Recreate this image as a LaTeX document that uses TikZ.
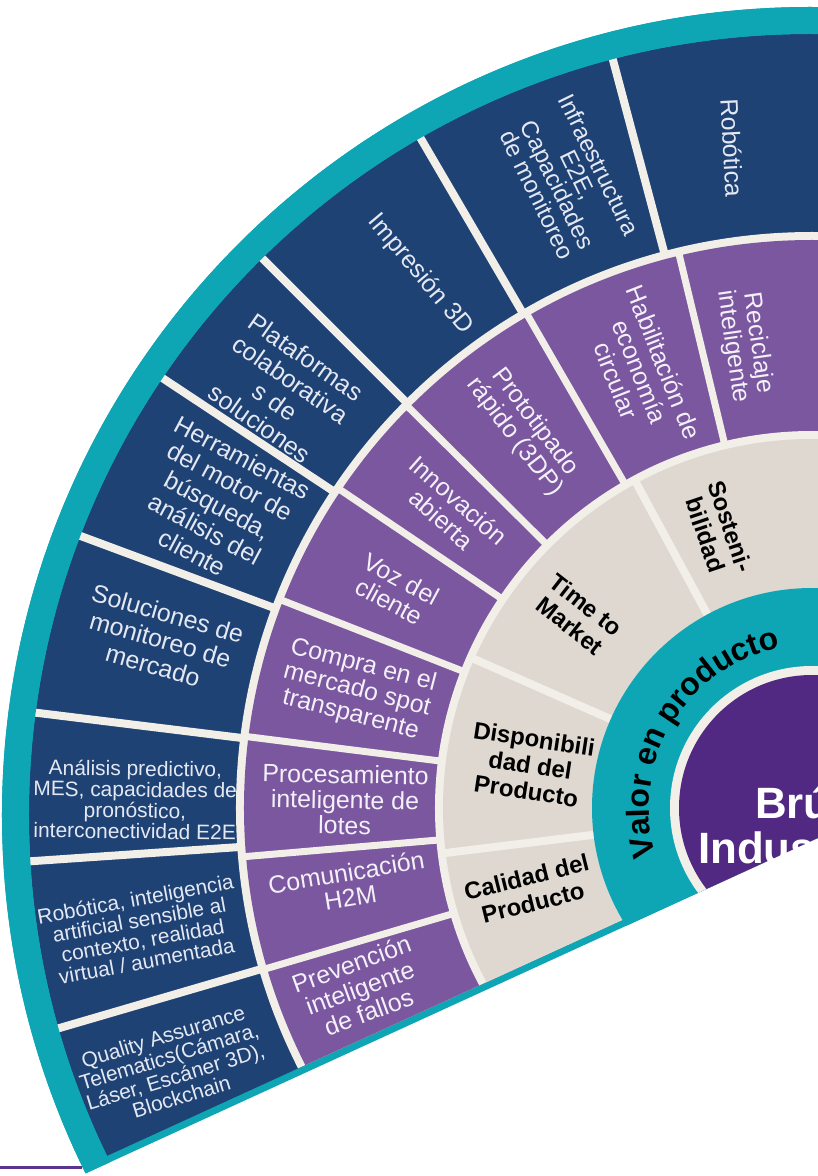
\documentclass[tikz,border=0pt]{standalone}
\usepackage{fontspec}
\setmainfont{Liberation Sans}
\usetikzlibrary{decorations.text}
\definecolor{ringteal}{RGB}{14,166,180}
\definecolor{cellblue}{RGB}{31,66,117}
\definecolor{cellpurple}{RGB}{123,87,160}
\definecolor{cellbeige}{RGB}{222,216,208}
\definecolor{gapcream}{RGB}{242,238,232}
\definecolor{corepurple}{RGB}{82,41,130}
\definecolor{bluefg}{RGB}{228,232,242}
\definecolor{purplefg}{RGB}{243,240,248}
\definecolor{rulepurple}{RGB}{92,52,140}
\tikzset{
      bluecell/.style   = {text=bluefg, align=center, inner sep=0pt, font=\fontsize{25}{27}\selectfont},
      smallcell/.style  = {text=bluefg, align=center, inner sep=0pt, font=\fontsize{21}{21}\selectfont},
      purplecell/.style = {text=purplefg, align=center, inner sep=0pt, font=\fontsize{25}{25.5}\selectfont},
      beigecell/.style  = {text=black, align=center, inner sep=0pt, font=\bfseries\fontsize{24}{26.5}\selectfont},
      corelabel/.style  = {text=white, anchor=base west, inner sep=0pt, font=\bfseries\fontsize{44}{44}\selectfont},
      gapline/.style    = {draw=gapcream, line width=8bp},
    }

\begin{document}
\begin{tikzpicture}[x=1bp, y=1bp]
          \useasboundingbox (-812,-368) rectangle (6,808);
          \clip (-812,-368) rectangle (6,808);
          \draw[rulepurple, line width=3bp] (-812,-359) -- (-730,-359);

          \begin{scope}
          % white cut along the lower edge
          \clip (-900,-444.9) -- (100,13.1) -- (100,900) -- (-900,900) -- cycle;
          \fill[ringteal] (-2,-7) circle[radius=808];
          \begin{scope}
            \clip (-900,-437.2) -- (100,20.8) -- (100,900) -- (-900,900) -- cycle;
            \fill[cellblue] (-2,-7) circle[radius=781];
            \fill[gapcream] (0,0) circle[radius=576];
            \fill[cellpurple] (0,0) circle[radius=568];
            \fill[gapcream] (0,0) circle[radius=377];
            \fill[cellbeige] (0,0) circle[radius=369];
            \foreach \a in {104.9,120.3,135,146.5,159.6,173,183.9,196.3}
              \draw[gapline] (\a:570) -- (\a:800);
            \foreach \a in {103.5,120,135.2,146,158.6,172.8,184.9,196.4}
              \draw[gapline, line width=7bp] (\a:373) -- (\a:572);
            \foreach \a in {118.4,156.2,187}
              \draw[gapline] (\a:215) -- (\a:373);
          \end{scope}
          \fill[ringteal, even odd rule] (-2,-7) circle[radius=808] (-2,-7) circle[radius=781];
          \fill[ringteal] (0,0) circle[radius=220];
          \fill[gapcream] (0,0) circle[radius=142];
          \fill[corepurple] (0,0) circle[radius=133];

          \node[corelabel] (bru) at (-57,-10) {Brú};
          \node[corelabel] (indus) at (-114,-55) {Indus};

          \path[decorate, decoration={text along path, text align=center,
              text={|\bfseries\fontsize{32}{32}\selectfont|Valor en producto}}]
              (197:163) arc[start angle=197, end angle=101, radius=163];

          % outer ring
          \node[bluecell, rotate=-87] (robotica) at (96.9:665) {Robótica};
          \node[bluecell, rotate=-64, font=\fontsize{24}{23}\selectfont] (infra) at (111.2:674) {Infraestructura\\E2E,\\Capacidades\\de monitoreo};
          \node[bluecell, rotate=-50] (impresion) at (126.3:662) {Impresión 3D};
          \node[bluecell, rotate=-35] (plataformas) at (141.7:674) {Plataformas\\colaborativa\\s de\\soluciones};
          \node[bluecell, rotate=-28] (herramientas) at (153:667) {Herramientas\\del motor de\\búsqueda,\\análisis del\\cliente};
          \node[bluecell, rotate=-16] (soluciones) at (165.5:673) {Soluciones de\\monitoreo de\\mercado};
          \node[smallcell, rotate=-0.7] (analisis) at (179.3:677) {Análisis predictivo,\\MES, capacidades de\\pronóstico,\\interconectividad E2E};
          \node[smallcell, rotate=10.3] (roboticaia) at (190.3:682) {Robótica, inteligencia\\artificial sensible al\\contexto, realidad\\virtual / aumentada};
          \node[smallcell, rotate=17] (quality) at (202:690) {Quality Assurance\\Telematics(Cámara,\\Láser, Escáner 3D),\\Blockchain};

          % middle ring
          \node[purplecell, rotate=-81.8] (reciclaje) at (98.2:468) {Reciclaje\\inteligente};
          \node[purplecell, rotate=-68.5] (habilitacion) at (111.5:469) {Habilitación de\\economía\\circular};
          \node[purplecell, rotate=-52.8] (prototipado) at (127.2:475) {Prototipado\\rápido (3DP)};
          \node[purplecell, rotate=-41.5] (innovacion) at (140.5:469) {Innovación\\abierta};
          \node[purplecell, rotate=-28.3] (voz) at (152.4:470) {Voz del\\cliente};
          \node[purplecell, rotate=-14.5] (compra) at (165.5:470) {Compra en el\\mercado spot\\transparente};
          \node[purplecell, rotate=-1] (procesamiento) at (179:467) {Procesamiento\\inteligente de\\lotes};
          \node[purplecell, rotate=9.4] (comunicacion) at (189.4:470) {Comunicación\\H2M};
          \node[purplecell, rotate=20] (prevencion) at (201.7:486.5) {Prevención\\inteligente\\de fallos};

          % inner ring
          \node[beigecell, rotate=-71.3] (sostenibilidad) at (108.7:293) {Sosteni-\\bilidad};
          \node[beigecell, rotate=-38] (timemarket) at (140.5:303) {Time to\\Market};
          \node[beigecell, rotate=-8.7] (disponibilidad) at (171.3:285) {Disponibili\\dad del\\Producto};
          \node[beigecell, rotate=14] (calidad) at (196.2:294) {Calidad del\\Producto};
          \end{scope}
\end{tikzpicture}
\end{document}
